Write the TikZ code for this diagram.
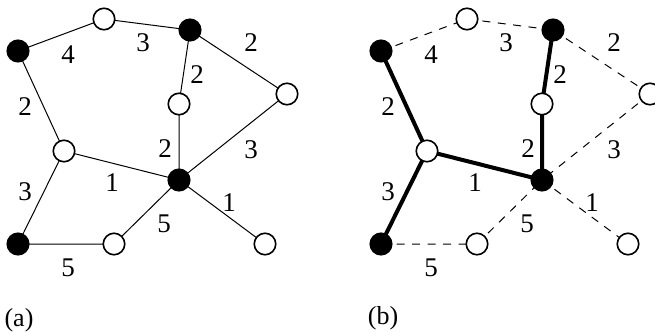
\documentclass[tikz,border=0pt]{standalone}
\usepackage{fontspec}
\setmainfont{Liberation Serif}
\begin{document}
\begin{tikzpicture}[x=1pt,y=-1pt,
  vtx/.style={circle,draw=black,line width=1.6pt,minimum size=21.5pt,inner sep=0pt},
  full/.style={vtx,fill=black},
  hollow/.style={vtx,fill=white},
  plainedge/.style={line width=1pt},
  treeedge/.style={line width=4pt},
  dashedge/.style={line width=1pt,dash pattern=on 8pt off 7.5pt},
  wt/.style={inner sep=0pt,font=\fontsize{27}{30}\selectfont},
  captxt/.style={inner sep=0pt,font=\fontsize{26}{30}\selectfont}]
\useasboundingbox (0,0) rectangle (655,332);
% ---------- (a) ----------
\begin{scope}
\coordinate (aA) at (18,51);
\coordinate (aB) at (104,19);
\coordinate (aC) at (190,30);
\coordinate (aD) at (287,94);
\coordinate (aE) at (179,104);
\coordinate (aF) at (64,151);
\coordinate (aG) at (179,180);
\coordinate (aH) at (18,244);
\coordinate (aI) at (114,244);
\coordinate (aJ) at (265,244);
\draw[plainedge] (aA)--(aB) (aB)--(aC) (aC)--(aD) (aC)--(aE) (aA)--(aF) (aE)--(aG)
  (aD)--(aG) (aF)--(aG) (aF)--(aH) (aH)--(aI) (aI)--(aG) (aG)--(aJ);
\node[full] (nA) at (aA) {};
\node[hollow] (nB) at (aB) {};
\node[full] (nC) at (aC) {};
\node[hollow] (nD) at (aD) {};
\node[hollow] (nE) at (aE) {};
\node[hollow] (nF) at (aF) {};
\node[full] (nG) at (aG) {};
\node[full] (nH) at (aH) {};
\node[hollow] (nI) at (aI) {};
\node[hollow] (nJ) at (aJ) {};
\node[wt] (la1) at (68,55) {4};
\node[wt] (la2) at (143,43) {3};
\node[wt] (la3) at (251,43) {2};
\node[wt] (la4) at (197,75) {2};
\node[wt] (la5) at (25,107) {2};
\node[wt] (la6) at (165,149) {2};
\node[wt] (la7) at (251,150) {3};
\node[wt] (la8) at (25,192) {3};
\node[wt] (la9) at (112,183) {1};
\node[wt] (la10) at (164,224) {5};
\node[wt] (la11) at (229,203) {1};
\node[wt] (la12) at (68,268) {5};
\node[captxt] (capa) at (19,320) {(a)};
\end{scope}
% ---------- (b) ----------
\begin{scope}[xshift=363pt]
\coordinate (bA) at (18,51);
\coordinate (bB) at (104,19);
\coordinate (bC) at (190,30);
\coordinate (bD) at (287,94);
\coordinate (bE) at (179,104);
\coordinate (bF) at (64,151);
\coordinate (bG) at (179,180);
\coordinate (bH) at (18,244);
\coordinate (bI) at (114,244);
\coordinate (bJ) at (265,244);
\draw[dashedge] (bA)--(bB) (bB)--(bC) (bC)--(bD) (bD)--(bG) (bI)--(bG) (bH)--(bI) (bG)--(bJ);
\draw[treeedge] (bA)--(bF) (bF)--(bH) (bF)--(bG) (bC)--(bE) (bE)--(bG);
\node[full] (mA) at (bA) {};
\node[hollow] (mB) at (bB) {};
\node[full] (mC) at (bC) {};
\node[hollow] (mD) at (bD) {};
\node[hollow] (mE) at (bE) {};
\node[hollow] (mF) at (bF) {};
\node[full] (mG) at (bG) {};
\node[full] (mH) at (bH) {};
\node[hollow] (mI) at (bI) {};
\node[hollow] (mJ) at (bJ) {};
\node[wt] (lb1) at (68,55) {4};
\node[wt] (lb2) at (143,43) {3};
\node[wt] (lb3) at (251,43) {2};
\node[wt] (lb4) at (197,75) {2};
\node[wt] (lb5) at (25,107) {2};
\node[wt] (lb6) at (165,149) {2};
\node[wt] (lb7) at (251,150) {3};
\node[wt] (lb8) at (25,192) {3};
\node[wt] (lb9) at (112,183) {1};
\node[wt] (lb10) at (164,224) {5};
\node[wt] (lb11) at (229,203) {1};
\node[wt] (lb12) at (68,268) {5};
\node[captxt] (capb) at (20,318) {(b)};
\end{scope}
\end{tikzpicture}
\end{document}
